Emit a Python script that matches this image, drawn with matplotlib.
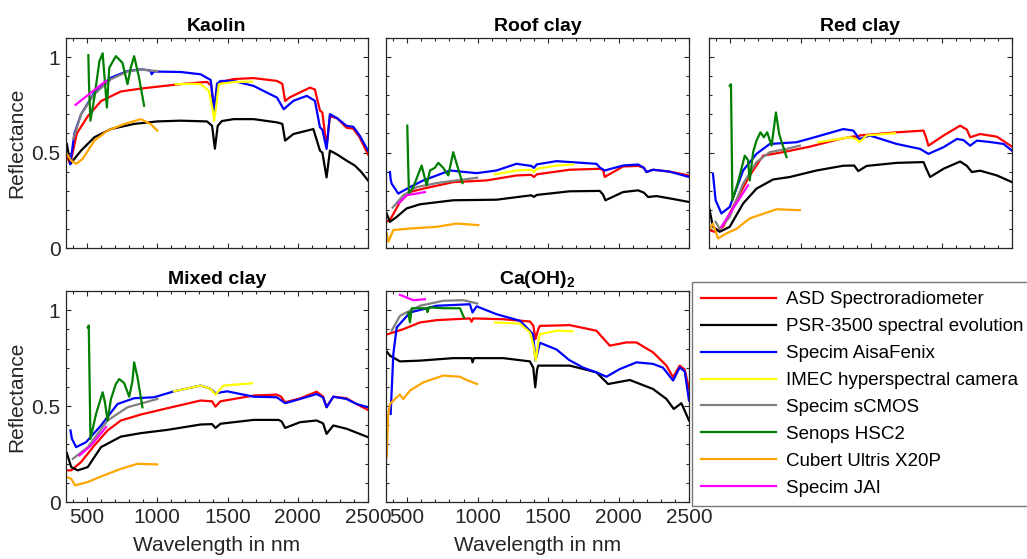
import matplotlib
matplotlib.use('Agg')
import matplotlib.pyplot as plt
from matplotlib.ticker import MultipleLocator, FuncFormatter

plt.rcParams['font.family'] = ['Liberation Sans', 'DejaVu Sans']
plt.rcParams['mathtext.fontset'] = 'custom'
plt.rcParams['mathtext.rm'] = 'Liberation Sans'
plt.rcParams['mathtext.bf'] = 'Liberation Sans:bold'

instruments = ['ASD Spectroradiometer', 'PSR-3500 spectral evolution', 'Specim AisaFenix',
               'IMEC hyperspectral camera', 'Specim sCMOS', 'Senops HSC2',
               'Cubert Ultris X20P', 'Specim JAI']
colors = ['#ff0000', '#000000', '#0000ff', '#ffff00', '#808080', '#008000', '#ffa500', '#ff00ff']

# ---- Kaolin
kao_asd_wl = [356, 380, 427, 505, 600, 741, 883, 1000, 1189, 1354, 1385, 1405, 1425, 1450, 1544, 1686, 1852,
              1890, 1910, 1945, 2087, 2122, 2158, 2175, 2205, 2229, 2280, 2347, 2395, 2440, 2500]
kao_asd_r = [0.48, 0.44, 0.60, 0.69, 0.77, 0.82, 0.835, 0.845, 0.86, 0.87, 0.85, 0.70, 0.84, 0.87, 0.885, 0.89,
             0.875, 0.86, 0.77, 0.79, 0.84, 0.83, 0.72, 0.71, 0.53, 0.69, 0.68, 0.63, 0.625, 0.58, 0.49]
kao_psr_wl = [356, 380, 457, 552, 670, 835, 1000, 1166, 1354, 1390, 1410, 1430, 1460, 1544, 1686, 1852, 1890,
              1910, 1969, 2111, 2158, 2175, 2205, 2229, 2280, 2347, 2406, 2450, 2500]
kao_psr_r = [0.545, 0.44, 0.51, 0.58, 0.623, 0.65, 0.663, 0.667, 0.663, 0.64, 0.52, 0.64, 0.665, 0.675, 0.675,
             0.658, 0.65, 0.5625, 0.597, 0.623, 0.51, 0.50, 0.37, 0.51, 0.49, 0.458, 0.432, 0.40, 0.354]
kao_aisa_wl = [380, 410, 457, 552, 670, 788, 883, 950, 960, 975, 1000, 1166, 1308, 1380, 1405, 1425, 1450, 1544,
               1686, 1780, 1852, 1900, 1969, 2064, 2122, 2158, 2175, 2205, 2229, 2280, 2347, 2395, 2440, 2500]
kao_aisa_r = [0.44, 0.60, 0.70, 0.814, 0.892, 0.927, 0.936, 0.93, 0.91, 0.925, 0.924, 0.922, 0.91, 0.88, 0.72,
              0.86, 0.875, 0.875, 0.849, 0.814, 0.788, 0.727, 0.771, 0.797, 0.771, 0.632, 0.62, 0.519, 0.701,
              0.68, 0.64, 0.635, 0.59, 0.51]
kao_imec_wl = [1131, 1250, 1308, 1367, 1395, 1405, 1420, 1438, 1544, 1674]
kao_imec_r = [0.858, 0.86, 0.858, 0.823, 0.72, 0.667, 0.75, 0.858, 0.87, 0.871]
kao_scmos_wl = [402, 457, 552, 670, 788, 883, 940, 1000]
kao_scmos_r = [0.571, 0.70, 0.806, 0.884, 0.924, 0.936, 0.93, 0.927]
kao_senops_wl = [509, 514, 524, 552, 588, 611, 641, 658, 705, 752, 788, 811, 835, 870, 906]
kao_senops_r = [1.01, 0.85, 0.667, 0.788, 0.979, 1.02, 0.736, 0.944, 1.005, 0.97, 0.858, 0.944, 1.005, 0.892, 0.745]
kao_cubert_wl = [356, 386, 422, 469, 552, 646, 764, 883, 953, 1000]
kao_cubert_r = [0.493, 0.458, 0.441, 0.467, 0.5625, 0.615, 0.649, 0.675, 0.649, 0.615]
kao_jai_wl = [418, 530, 635]
kao_jai_r = [0.75, 0.815, 0.875]

# ---- Roof clay
roof_asd_wl = [350, 378, 449, 520, 615, 827, 1064, 1276, 1380, 1400, 1420, 1654, 1867, 1890, 1902, 1920, 2032,
               2139, 2180, 2198, 2245, 2363, 2500]
roof_asd_r = [0.137, 0.146, 0.241, 0.293, 0.311, 0.345, 0.354, 0.380, 0.383, 0.372, 0.386, 0.41, 0.415, 0.41,
              0.372, 0.38, 0.427, 0.43, 0.42, 0.398, 0.41, 0.40, 0.38]
roof_psr_wl = [350, 378, 426, 496, 591, 827, 1134, 1380, 1400, 1420, 1654, 1867, 1890, 1907, 2032, 2139, 2180,
               2210, 2269, 2400, 2500]
roof_psr_r = [0.189, 0.137, 0.163, 0.207, 0.229, 0.25, 0.253, 0.276, 0.268, 0.278, 0.297, 0.299, 0.28, 0.25,
              0.293, 0.302, 0.29, 0.267, 0.272, 0.255, 0.241]
roof_aisa_wl = [378, 383, 390, 437, 520, 615, 804, 993, 1134, 1276, 1380, 1400, 1420, 1560, 1843, 1870, 1902,
                2032, 2139, 2180, 2198, 2245, 2363, 2500]
roof_aisa_r = [0.398, 0.36, 0.337, 0.285, 0.319, 0.354, 0.406, 0.392, 0.406, 0.441, 0.43, 0.42, 0.438, 0.455,
               0.441, 0.42, 0.406, 0.432, 0.4375, 0.42, 0.398, 0.41, 0.40, 0.372]
roof_imec_wl = [1123, 1276, 1380, 1400, 1420, 1560, 1678]
roof_imec_r = [0.385, 0.406, 0.41, 0.397, 0.415, 0.432, 0.4375]
roof_scmos_wl = [397, 473, 567, 709, 851, 997]
roof_scmos_r = [0.212, 0.276, 0.319, 0.340, 0.354, 0.368]
roof_senops_wl = [501, 507, 513, 544, 603, 638, 662, 697, 721, 756, 792, 827, 856, 893]
roof_senops_r = [0.641, 0.45, 0.285, 0.32, 0.432, 0.328, 0.406, 0.42, 0.446, 0.42, 0.38, 0.502, 0.43, 0.34]
roof_cubert_wl = [355, 367, 402, 520, 709, 851, 1005]
roof_cubert_r = [0.076, 0.033, 0.094, 0.102, 0.111, 0.128, 0.12]
roof_jai_wl = [437, 496, 626]
roof_jai_r = [0.233, 0.276, 0.293]

# ---- Red clay
red_asd_wl = [350, 390, 450, 544, 639, 734, 876, 1066, 1279, 1380, 1400, 1420, 1540, 1682, 1872, 1890, 1907,
              2014, 2132, 2180, 2203, 2274, 2393, 2500]
red_asd_r = [0.094, 0.085, 0.111, 0.25, 0.38, 0.484, 0.502, 0.531, 0.571, 0.585, 0.575, 0.59, 0.597, 0.606,
             0.615, 0.58, 0.536, 0.589, 0.641, 0.62, 0.58, 0.597, 0.583, 0.531]
red_psr_wl = [350, 378, 426, 497, 592, 687, 805, 924, 1113, 1303, 1380, 1409, 1469, 1682, 1872, 1895, 1919,
              2014, 2132, 2180, 2215, 2274, 2393, 2500]
red_psr_r = [0.215, 0.111, 0.085, 0.111, 0.233, 0.311, 0.359, 0.372, 0.406, 0.431, 0.432, 0.403, 0.43, 0.446,
             0.45, 0.41, 0.372, 0.415, 0.453, 0.43, 0.398, 0.405, 0.38, 0.345]
red_aisa_wl = [378, 397, 438, 497, 592, 687, 781, 971, 1113, 1303, 1374, 1417, 1492, 1682, 1848, 1907, 2014,
               2109, 2156, 2203, 2251, 2346, 2440, 2500]
red_aisa_r = [0.389, 0.25, 0.181, 0.215, 0.406, 0.493, 0.545, 0.554, 0.583, 0.623, 0.615, 0.571, 0.589, 0.545,
              0.519, 0.493, 0.528, 0.571, 0.565, 0.536, 0.5625, 0.555, 0.545, 0.51]
red_imec_wl = [1125, 1350, 1395, 1417, 1469, 1670]
red_imec_r = [0.554, 0.58, 0.57, 0.554, 0.59, 0.601]
red_scmos_wl = [397, 426, 497, 592, 687, 781, 900, 995]
red_scmos_r = [0.137, 0.10, 0.163, 0.337, 0.45, 0.502, 0.519, 0.536]
red_senops_wl = [497, 506, 516, 556, 604, 627, 639, 663, 687, 715, 739, 763, 794, 825, 848, 900]
red_senops_r = [0.849, 0.858, 0.25, 0.345, 0.484, 0.46, 0.354, 0.502, 0.5625, 0.606, 0.58, 0.606, 0.536, 0.71,
                0.597, 0.476]
red_cubert_wl = [355, 378, 414, 473, 544, 639, 829, 995]
red_cubert_r = [0.102, 0.128, 0.05, 0.076, 0.10, 0.155, 0.203, 0.198]
red_jai_wl = [438, 521, 627]
red_jai_r = [0.111, 0.207, 0.328]

# ---- Mixed clay
mix_asd_wl = [356, 387, 457, 552, 646, 741, 883, 1072, 1308, 1390, 1414, 1450, 1686, 1851, 1880, 1910, 2016,
              2134, 2180, 2205, 2253, 2347, 2418, 2500]
mix_asd_r = [0.165, 0.165, 0.208, 0.295, 0.373, 0.425, 0.456, 0.489, 0.529, 0.525, 0.497, 0.525, 0.555, 0.56,
             0.55, 0.52, 0.54, 0.575, 0.55, 0.494, 0.549, 0.541, 0.511, 0.48]
mix_psr_wl = [356, 387, 434, 505, 599, 741, 883, 1072, 1308, 1390, 1414, 1450, 1686, 1863, 1885, 1910, 2016,
              2134, 2180, 2205, 2253, 2347, 2500]
mix_psr_r = [0.255, 0.182, 0.165, 0.182, 0.286, 0.341, 0.359, 0.376, 0.404, 0.406, 0.386, 0.408, 0.428, 0.428,
             0.42, 0.386, 0.416, 0.425, 0.41, 0.355, 0.399, 0.382, 0.338]
mix_aisa_wl = [382, 392, 422, 493, 599, 717, 835, 977, 1119, 1308, 1379, 1414, 1497, 1686, 1851, 1910, 2016,
               2134, 2180, 2205, 2253, 2347, 2418, 2500]
mix_aisa_r = [0.373, 0.33, 0.286, 0.312, 0.399, 0.511, 0.541, 0.546, 0.577, 0.607, 0.59, 0.567, 0.577, 0.549,
              0.546, 0.515, 0.537, 0.563, 0.545, 0.494, 0.549, 0.537, 0.511, 0.494]
mix_imec_wl = [1119, 1308, 1379, 1414, 1473, 1674]
mix_imec_r = [0.577, 0.607, 0.59, 0.56, 0.607, 0.619]
mix_scmos_wl = [398, 505, 646, 788, 1000]
mix_scmos_r = [0.225, 0.286, 0.425, 0.494, 0.537]
mix_senops_wl = [505, 512, 524, 564, 611, 627, 646, 670, 705, 729, 764, 800, 823, 835, 859, 894]
mix_senops_r = [0.91, 0.92, 0.329, 0.459, 0.572, 0.52, 0.425, 0.537, 0.615, 0.641, 0.62, 0.549, 0.63, 0.728,
                0.65, 0.494]
mix_cubert_wl = [356, 387, 415, 505, 599, 741, 859, 1000]
mix_cubert_r = [0.13, 0.121, 0.087, 0.104, 0.133, 0.173, 0.199, 0.196]
mix_jai_wl = [446, 528, 635]
mix_jai_r = [0.243, 0.295, 0.39]

# ---- Ca(OH)2
ca_asd_wl = [350, 473, 591, 709, 945, 957, 969, 1182, 1371, 1395, 1411, 1430, 1442, 1654, 1843, 1938, 2056,
             2127, 2245, 2340, 2387, 2434, 2470, 2500]
ca_asd_r = [0.872, 0.901, 0.936, 0.948, 0.957, 0.94, 0.957, 0.953, 0.941, 0.92, 0.849, 0.90, 0.918, 0.922,
            0.893, 0.815, 0.832, 0.832, 0.78, 0.711, 0.65, 0.711, 0.69, 0.589]
ca_psr_wl = [350, 378, 449, 591, 827, 957, 964, 974, 1182, 1371, 1395, 1409, 1422, 1430, 1654, 1843, 1926,
             2080, 2245, 2340, 2392, 2446, 2500]
ca_psr_r = [0.789, 0.763, 0.733, 0.737, 0.75, 0.75, 0.728, 0.75, 0.75, 0.733, 0.70, 0.598, 0.69, 0.711, 0.711,
            0.676, 0.615, 0.636, 0.589, 0.537, 0.485, 0.515, 0.425]
ca_aisa_wl = [383, 402, 426, 520, 709, 945, 964, 993, 1134, 1300, 1394, 1411, 1442, 1560, 1650, 1750, 1843,
              1914, 2009, 2127, 2245, 2316, 2387, 2434, 2470, 2500]
ca_aisa_r = [0.459, 0.771, 0.91, 0.988, 1.023, 1.031, 0.988, 1.02, 0.979, 0.945, 0.875, 0.737, 0.83, 0.795,
             0.74, 0.70, 0.676, 0.653, 0.693, 0.728, 0.72, 0.70, 0.633, 0.702, 0.68, 0.529]
ca_imec_wl = [1123, 1300, 1371, 1395, 1413, 1430, 1442, 1560, 1673]
ca_imec_r = [0.936, 0.93, 0.884, 0.82, 0.737, 0.83, 0.875, 0.893, 0.89]
ca_scmos_wl = [390, 449, 591, 756, 898, 997]
ca_scmos_r = [0.893, 0.971, 1.023, 1.049, 1.052, 1.035]
ca_senops_wl = [508, 520, 532, 638, 643, 657, 756, 875, 903]
ca_senops_r = [0.988, 0.936, 1.01, 1.01, 0.99, 1.015, 1.01, 1.01, 0.962]
ca_cubert_wl = [355, 365, 378, 426, 449, 473, 520, 615, 756, 875, 922, 997]
ca_cubert_r = [0.234, 0.45, 0.511, 0.546, 0.56, 0.537, 0.581, 0.624, 0.659, 0.653, 0.636, 0.615]
ca_jai_wl = [449, 544, 626]
ca_jai_r = [1.08, 1.052, 1.057]

titles = ['Kaolin', 'Roof clay', 'Red clay', 'Mixed clay', r'Ca(OH)$_\mathbf{2}$']
panels = [
    [(kao_asd_wl, kao_asd_r), (kao_psr_wl, kao_psr_r), (kao_aisa_wl, kao_aisa_r), (kao_imec_wl, kao_imec_r),
     (kao_scmos_wl, kao_scmos_r), (kao_senops_wl, kao_senops_r), (kao_cubert_wl, kao_cubert_r),
     (kao_jai_wl, kao_jai_r)],
    [(roof_asd_wl, roof_asd_r), (roof_psr_wl, roof_psr_r), (roof_aisa_wl, roof_aisa_r),
     (roof_imec_wl, roof_imec_r), (roof_scmos_wl, roof_scmos_r), (roof_senops_wl, roof_senops_r),
     (roof_cubert_wl, roof_cubert_r), (roof_jai_wl, roof_jai_r)],
    [(red_asd_wl, red_asd_r), (red_psr_wl, red_psr_r), (red_aisa_wl, red_aisa_r), (red_imec_wl, red_imec_r),
     (red_scmos_wl, red_scmos_r), (red_senops_wl, red_senops_r), (red_cubert_wl, red_cubert_r),
     (red_jai_wl, red_jai_r)],
    [(mix_asd_wl, mix_asd_r), (mix_psr_wl, mix_psr_r), (mix_aisa_wl, mix_aisa_r), (mix_imec_wl, mix_imec_r),
     (mix_scmos_wl, mix_scmos_r), (mix_senops_wl, mix_senops_r), (mix_cubert_wl, mix_cubert_r),
     (mix_jai_wl, mix_jai_r)],
    [(ca_asd_wl, ca_asd_r), (ca_psr_wl, ca_psr_r), (ca_aisa_wl, ca_aisa_r), (ca_imec_wl, ca_imec_r),
     (ca_scmos_wl, ca_scmos_r), (ca_senops_wl, ca_senops_r), (ca_cubert_wl, ca_cubert_r),
     (ca_jai_wl, ca_jai_r)],
]

W, H = 1027, 559
# axes boxes in pixels: left, top, right, bottom
boxes = [(66, 38, 368, 248), (386, 38, 689, 248), (709, 38, 1012, 248),
         (66, 291, 368, 502), (386, 291, 689, 502)]

fig = plt.figure(figsize=(W / 100, H / 100), dpi=100)
txt = '#262626'
handles = []
for i, (series, title, box) in enumerate(zip(panels, titles, boxes)):
    l, t, r, b = box
    ax = fig.add_axes([l / W, 1 - b / H, (r - l) / W, (b - t) / H])
    for (wl, refl), c, name in zip(series, colors, instruments):
        ln, = ax.plot(wl, refl, color=c, lw=1.6, label=name)
        if i == 0:
            handles.append(ln)
    ax.set_xlim(350, 2500)
    ax.set_ylim(0, 1.1)
    ax.xaxis.set_major_locator(MultipleLocator(500))
    ax.xaxis.set_minor_locator(MultipleLocator(100))
    ax.yaxis.set_major_locator(MultipleLocator(0.5))
    ax.yaxis.set_minor_locator(MultipleLocator(0.1))
    ax.yaxis.set_major_formatter(FuncFormatter(lambda v, p: '%g' % v))
    ax.tick_params(which='both', direction='in', top=True, right=True, colors=txt,
                   labelsize=15, pad=4)
    ax.tick_params(which='major', length=3.5, width=0.8)
    ax.tick_params(which='minor', length=2.5, width=0.8)
    for sp in ax.spines.values():
        sp.set_color(txt)
        sp.set_linewidth(0.9)
    ax.set_title(title, fontsize=14, fontweight='bold', pad=5)
    if i < 3:
        ax.tick_params(labelbottom=False)
    else:
        ax.set_xlabel('Wavelength in nm', fontsize=15, color=txt, labelpad=7)
    if i in (0, 3):
        ax.set_ylabel('Reflectance', fontsize=15, color=txt, labelpad=4)
    else:
        ax.tick_params(labelleft=False)

# legend sits in the empty sixth cell
leg = fig.legend(handles, instruments, loc='upper left', bbox_to_anchor=(692 / W, 1 - 282 / H),
                 fontsize=13.5, frameon=True, fancybox=False, handlelength=4.0, labelspacing=0.52,
                 borderaxespad=0, borderpad=0.5, handletextpad=0.5)
leg.get_frame().set_edgecolor('#555555')
leg.get_frame().set_linewidth(1.0)

fig.savefig('out.png', dpi=100)
